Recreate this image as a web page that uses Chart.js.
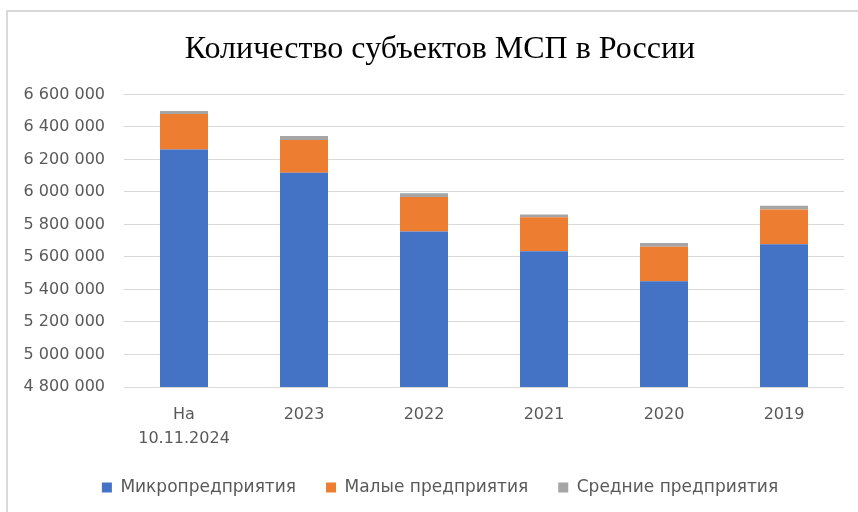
<!DOCTYPE html>
<html>
<head>
<meta charset="utf-8">
<script src="https://cdn.jsdelivr.net/npm/chart.js@4"></script>
<style>
  html, body { margin: 0; padding: 0; background: #fff; }
  body { width: 858px; height: 512px; position: relative; overflow: hidden; }
  #frame { position: absolute; left: 6px; top: 10px; width: 900px; height: 600px; border: 2px solid #d9d9d9; }
  #wrap { position: absolute; left: 0; top: 0; width: 880px; height: 512px; }
</style>
</head>
<body>
<div id="frame"></div>
<div id="wrap"><canvas id="chart" width="880" height="512"></canvas></div>
<script>
// Количество субъектов МСП в России
const categories = [['На', '10.11.2024'], '2023', '2022', '2021', '2020', '2019'];
const micro  = [6261000, 6118000, 5757000, 5635000, 5451000, 5678000];
const small  = [219000, 202000, 212000, 210000, 212000, 214000];
const medium = [18000, 24000, 23000, 16000, 23000, 23000];

const seriesNames = ['Микропредприятия', 'Малые предприятия', 'Средние предприятия'];
const seriesColors = ['#4472c4', '#ed7d31', '#a5a5a5'];

const yMin = 4800000;
const yMax = 6600000;
const yStep = 200000;

const textColor = '#595959';
const gridColor = '#d9d9d9';
const labelFont = 'DejaVu Sans';

// 6 600 000 style labels
function fmt(v) {
  return String(v).replace(/\B(?=(\d{3})+(?!\d))/g, ' ');
}

const ctx = document.getElementById('chart').getContext('2d');
new Chart(ctx, {
  type: 'bar',
  data: {
    labels: categories,
    datasets: [micro, small, medium].map((d, i) => ({
      label: seriesNames[i],
      data: d,
      backgroundColor: seriesColors[i],
      barPercentage: 0.4,
      categoryPercentage: 1
    }))
  },
  options: {
    responsive: false,
    animation: false,
    layout: { padding: { left: 0, right: 0, top: 0, bottom: 6 } },
    scales: {
      x: {
        stacked: true,
        grid: { display: false },
        border: { display: false },
        ticks: { color: textColor, font: { family: labelFont, size: 16, lineHeight: 1.5 }, padding: 8, maxRotation: 0 },
        afterFit: s => { s.height = 62; }
      },
      y: {
        stacked: true,
        min: yMin,
        max: yMax,
        grid: { color: gridColor, drawTicks: false },
        border: { display: false },
        ticks: {
          stepSize: yStep,
          color: textColor,
          font: { family: labelFont, size: 16 },
          padding: 19,
          callback: v => fmt(v)
        },
        afterFit: s => { s.width = 124; }
      },
      // empty right-hand strip so the title centres like the original
      yRight: {
        position: 'right',
        grid: { display: false },
        border: { display: false },
        ticks: { display: false },
        afterFit: s => { s.width = 36; }
      }
    },
    plugins: {
      title: {
        display: true,
        text: 'Количество субъектов МСП в России',
        color: '#000',
        font: { family: 'Liberation Serif', size: 32, weight: 'normal' },
        padding: { top: 30, bottom: 26 }
      },
      legend: {
        position: 'bottom',
        labels: {
          color: textColor,
          font: { family: labelFont, size: 17 },
          boxWidth: 10,
          boxHeight: 10,
          padding: 30
        }
      },
      tooltip: { enabled: false }
    }
  }
});
</script>
</body>
</html>
